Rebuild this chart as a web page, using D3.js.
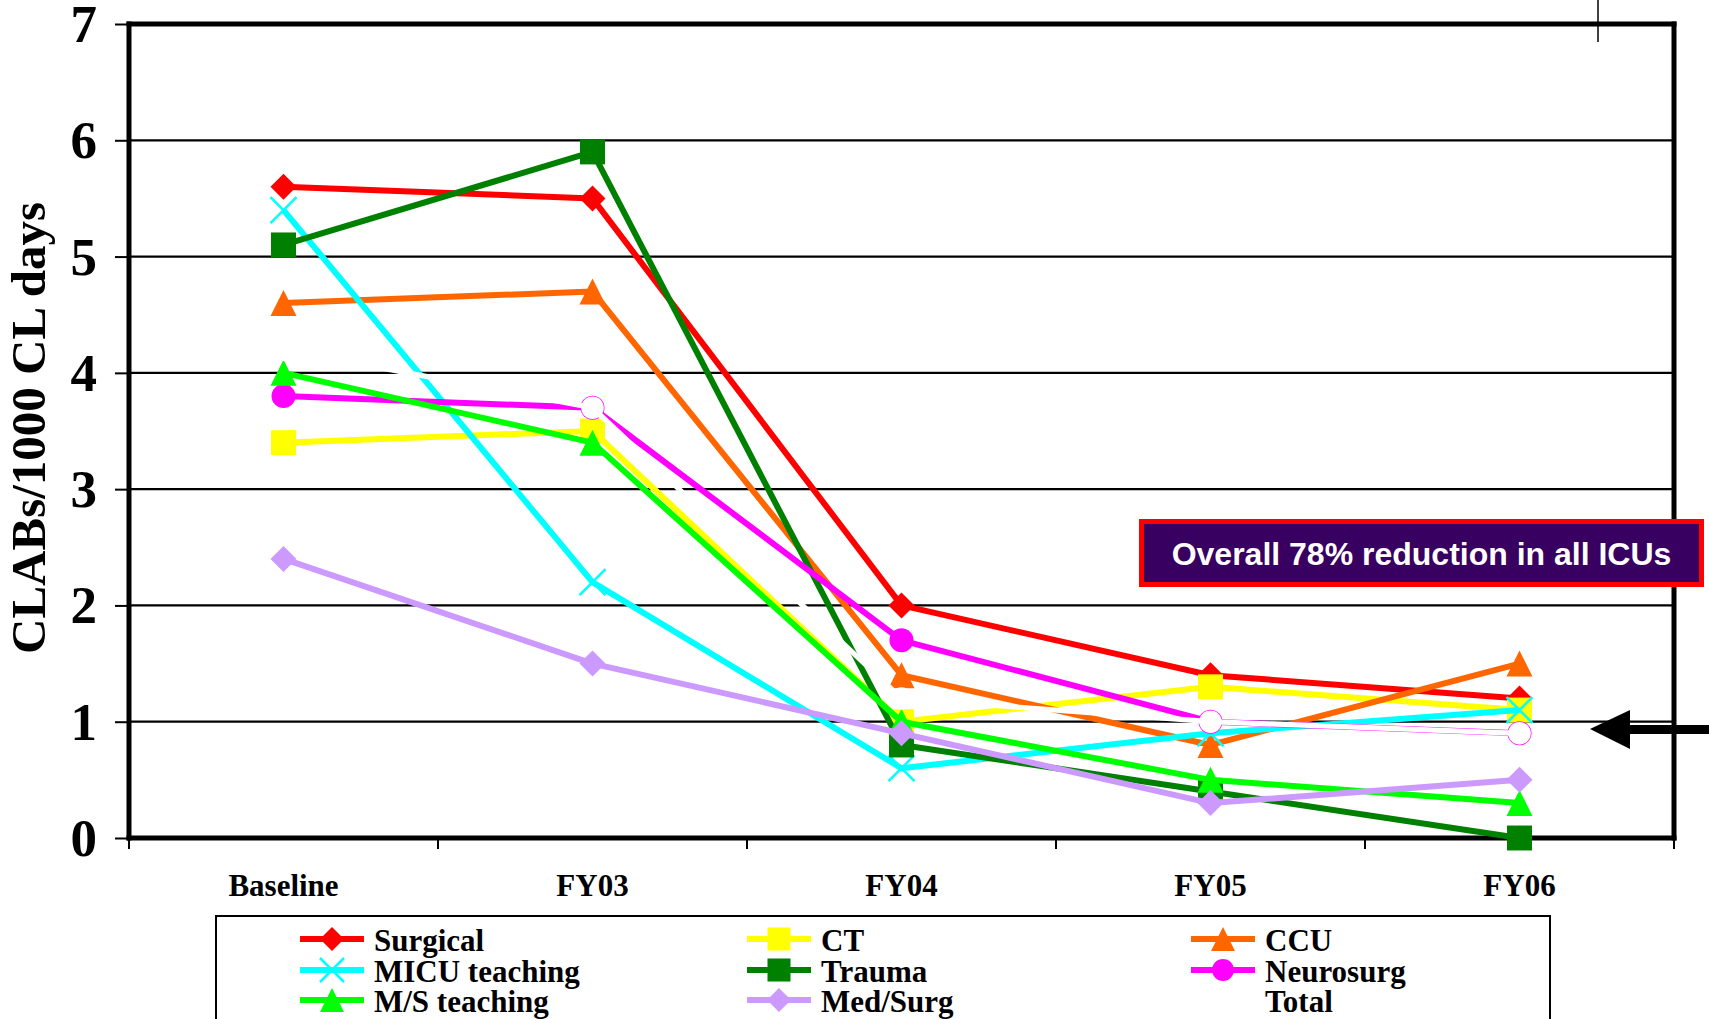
<!DOCTYPE html>
<html><head><meta charset="utf-8">
<script src="https://cdn.jsdelivr.net/npm/d3@7"></script>
<style>html,body{margin:0;padding:0;background:#fff;overflow:hidden}</style>
</head><body><svg id="chart" width="1709" height="1019"></svg>
<script>
// ---- data ----
const categories = ["Baseline", "FY03", "FY04", "FY05", "FY06"];
const surgical   = [5.6, 5.5, 2.0, 1.4, 1.2];
const ct         = [3.4, 3.5, 1.0, 1.3, 1.1];
const ccu        = [4.6, 4.7, 1.4, 0.8, 1.5];
const micu       = [5.4, 2.2, 0.6, 0.9, 1.1];
const trauma     = [5.1, 5.9, 0.8, 0.4, 0.0];
const neurosurg  = [3.8, 3.7, 1.7, 1.0, 0.9];
const msTeaching = [4.0, 3.4, 1.0, 0.5, 0.3];
const medSurg    = [2.4, 1.5, 0.9, 0.3, 0.5];
const total      = [4.2, 3.7, 1.2, 1.0, 0.9];
const seriesNames   = ["Surgical", "CT", "CCU", "MICU teaching", "Trauma", "Neurosurg", "M/S teaching", "Med/Surg", "Total"];
const seriesValues  = [surgical, ct, ccu, micu, trauma, neurosurg, msTeaching, medSurg, total];
const seriesColors  = ["#FF0000", "#FFFF00", "#FF6600", "#00FFFF", "#008000", "#FF00FF", "#00FF00", "#CC99FF", "#FFFFFF"];
const seriesMarkers = ["diamond", "square", "triangle", "x", "square", "circle", "triangle", "diamond", "circle"];
const yTickValues = [0, 1, 2, 3, 4, 5, 6, 7];
const yTitle = "CLABs/1000 CL days";
const annotationText = "Overall 78% reduction in all ICUs";

// ---- layout ----
const SERIF = "'Liberation Serif','Times New Roman',serif";
const SANS = "'Liberation Sans',Arial,sans-serif";
const svg = d3.select("#chart");
const L = 129, R = 1674, T = 24, B = 838;
const x = d3.scaleBand().domain(categories).range([L, R]).paddingInner(0).paddingOuter(0);
const cx = c => x(c) + x.bandwidth() / 2;
const y = d3.scaleLinear().domain([0, 7]).range([B, T]);

svg.append("rect").attr("width", 1709).attr("height", 1019).attr("fill", "#fff");

// gridlines
svg.append("g").selectAll("line").data(yTickValues.filter(v => v > 0 && v < 7)).join("line")
  .attr("x1", L).attr("x2", R).attr("y1", d => y(d)).attr("y2", d => y(d))
  .attr("stroke", "#000").attr("stroke-width", 2.2);

// y axis
const yAxis = svg.append("g").attr("transform", `translate(${L},0)`)
  .call(d3.axisLeft(y).tickValues(yTickValues).tickSize(14).tickPadding(18).tickFormat(d3.format("d")));
yAxis.select(".domain").remove();
yAxis.selectAll(".tick line").attr("stroke", "#000").attr("stroke-width", 2);
yAxis.selectAll(".tick text").attr("font-family", SERIF).attr("font-weight", "bold")
  .attr("font-size", 53).attr("fill", "#000").attr("dy", "0.33em");

// x axis labels
const xAxis = svg.append("g").attr("transform", `translate(0,${B})`)
  .call(d3.axisBottom(x).tickSizeInner(0).tickSizeOuter(0).tickPadding(36));
xAxis.select(".domain").remove();
xAxis.selectAll(".tick text").attr("font-family", SERIF).attr("font-weight", "bold")
  .attr("font-size", 31).attr("fill", "#000");
// x ticks at category boundaries
const edges = categories.map(c => x(c)).concat([x.range()[1]]);
svg.append("g").selectAll("line").data(edges).join("line")
  .attr("x1", d => d).attr("x2", d => d).attr("y1", B).attr("y2", B + 11)
  .attr("stroke", "#000").attr("stroke-width", 2);

// frame
const frame = svg.append("g").attr("stroke", "#000").attr("stroke-width", 5).attr("stroke-linecap", "square");
frame.append("line").attr("x1", L).attr("x2", R).attr("y1", T).attr("y2", T);
frame.append("line").attr("x1", L).attr("x2", R).attr("y1", B).attr("y2", B);
frame.append("line").attr("x1", L).attr("x2", L).attr("y1", T).attr("y2", B);
frame.append("line").attr("x1", R).attr("x2", R).attr("y1", T).attr("y2", B);

// y title
svg.append("text").attr("transform", `translate(45,428) rotate(-90)`)
  .attr("text-anchor", "middle").attr("font-family", SERIF).attr("font-weight", "bold")
  .attr("font-size", 49).attr("fill", "#000").text(yTitle);

// markers
function markerPath(type, s) {
  if (type === "diamond") return `M0,${-s}L${s},0L0,${s}L${-s},0Z`;
  if (type === "square") { const h = s * 0.96; return `M${-h},${-h}H${h}V${h}H${-h}Z`; }
  if (type === "triangle") return `M0,${-s}L${s},${s}L${-s},${s}Z`;
  if (type === "x") return `M${-s},${-s}L${s},${s}M${s},${-s}L${-s},${s}`;
  if (type === "circle") return `M${-s},0A${s},${s} 0 1,0 ${s},0A${s},${s} 0 1,0 ${-s},0Z`;
  return "";
}
function drawMarker(g, type, color, s) {
  const p = g.append("path").attr("d", markerPath(type, s));
  if (type === "x") p.attr("fill", "none").attr("stroke", color).attr("stroke-width", 2.5);
  else p.attr("fill", color);
}

const line = d3.line().x((d, i) => cx(categories[i])).y(d => y(d));
const plot = svg.append("g");
seriesValues.forEach((vals, si) => {
  const isTotal = seriesNames[si] === "Total";
  plot.append("path").datum(vals).attr("d", line).attr("fill", "none")
    .attr("stroke", seriesColors[si]).attr("stroke-width", isTotal ? 5.2 : 6)
    .attr("stroke-linejoin", "round");
  vals.forEach((v, i) => {
    const g = plot.append("g").attr("transform", `translate(${cx(categories[i])},${y(v)})`);
    drawMarker(g, seriesMarkers[si], seriesColors[si], isTotal ? 11.3 : (seriesMarkers[si] === "circle" ? 12 : 13));
  });
});

// annotation box
svg.append("rect").attr("x", 1141.5).attr("y", 521.5).attr("width", 560).attr("height", 63)
  .attr("fill", "#380060").attr("stroke", "#FF0000").attr("stroke-width", 5);
svg.append("text").attr("x", 1421.5).attr("y", 565).attr("text-anchor", "middle")
  .attr("font-family", SANS).attr("font-weight", "bold").attr("font-size", 32)
  .attr("fill", "#fff").text(annotationText);

// arrow
svg.append("path").attr("d", "M1590,729L1630,710L1630,749Z").attr("fill", "#000");
svg.append("rect").attr("x", 1628).attr("y", 725).attr("width", 82).attr("height", 9).attr("fill", "#000");
// stray line at top right
svg.append("line").attr("x1", 1598).attr("x2", 1598).attr("y1", 0).attr("y2", 42)
  .attr("stroke", "#000").attr("stroke-width", 1.5);

// legend
svg.append("rect").attr("x", 216).attr("y", 916).attr("width", 1334).attr("height", 200)
  .attr("fill", "#fff").attr("stroke", "#000").attr("stroke-width", 2);
const colX = [300, 747, 1191];
const rowY = [951, 982, 1012];
seriesNames.forEach((name, i) => {
  const c = i % 3, r = Math.floor(i / 3);
  const g = svg.append("g").attr("transform", `translate(${colX[c]},${rowY[r]})`);
  g.append("line").attr("x1", 0).attr("x2", 64).attr("y1", -12).attr("y2", -12)
    .attr("stroke", seriesColors[i]).attr("stroke-width", 6);
  const mg = g.append("g").attr("transform", "translate(32,-12)");
  drawMarker(mg, seriesMarkers[i], seriesColors[i], seriesMarkers[i] === "circle" ? 11 : 12);
  g.append("text").attr("x", 74).attr("y", 0).attr("font-family", SERIF).attr("font-weight", "bold")
    .attr("font-size", 31).attr("fill", "#000").text(name);
});
</script></body></html>
